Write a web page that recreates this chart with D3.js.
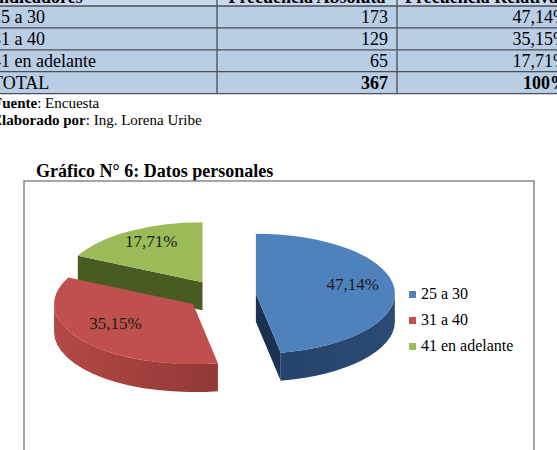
<!DOCTYPE html>
<html>
<head>
<meta charset="utf-8">
<script src="https://cdn.jsdelivr.net/npm/d3@7"></script>
<style>
  body { margin: 0; background: #fff; }
  svg { display: block; }
</style>
</head>
<body>
<div id="chart"></div>
<script>
// data
const headers = ["Indicadores", "Frecuencia Absoluta", "Frecuencia Relativa"];
const categories = ["25 a 30", "31 a 40", "41 en adelante"];
const absolutes = [173, 129, 65];
const relatives = ["47,14%", "35,15%", "17,71%"];
const totalLabel = "TOTAL";
const totalAbs = 367;
const totalRel = "100%";
const colors = ["#4f81bd", "#c0504d", "#9bbb59"];

const width = 557, height = 450;
const serif = "'Liberation Serif', 'Times New Roman', serif";

const svg = d3.select("#chart").append("svg")
  .attr("width", width)
  .attr("height", height)
  .attr("font-family", serif)
  .style("font-family", serif);

const defs = svg.append("defs");

// ---- table (cropped at the top / sides like the scan) ----
const colX = [-20, 217, 397, 590];
const rowY = [-16, 6];
for (let i = 2; i < 6; i++) rowY[i] = 6 + (i - 1) * 21.9;

const table = svg.append("g");
table.append("rect")
  .attr("x", colX[0]).attr("y", rowY[0])
  .attr("width", colX[3] - colX[0]).attr("height", rowY[1] - rowY[0])
  .attr("fill", "#c9d9ee");
table.append("rect")
  .attr("x", colX[0]).attr("y", rowY[1])
  .attr("width", colX[3] - colX[0]).attr("height", rowY[5] - rowY[1])
  .attr("fill", "#b9cde5");

rowY.slice(1).forEach(y => {
  table.append("line")
    .attr("x1", colX[0]).attr("x2", colX[3])
    .attr("y1", y).attr("y2", y)
    .attr("stroke", "#4b4f55").attr("stroke-width", 1.3);
});
[colX[1], colX[2]].forEach(x => {
  table.append("line")
    .attr("x1", x).attr("x2", x)
    .attr("y1", rowY[0]).attr("y2", rowY[5])
    .attr("stroke", "#4b4f55").attr("stroke-width", 1.3);
});

// header (only the bottom shows)
table.append("text").attr("x", -8).attr("y", 3)
  .style("font-size", "18px").style("font-weight", "bold").text(headers[0]);
table.append("text").attr("x", (colX[1] + colX[2]) / 2).attr("y", 3)
  .attr("text-anchor", "middle")
  .style("font-size", "18px").style("font-weight", "bold").text(headers[1]);
table.append("text").attr("x", colX[2] + 8).attr("y", 3)
  .style("font-size", "18px").style("font-weight", "bold").text(headers[2]);

const rows = categories.map((c, i) => ({ label: c, abs: absolutes[i], rel: relatives[i], bold: false }))
  .concat([{ label: totalLabel, abs: totalAbs, rel: totalRel, bold: true }]);

rows.forEach((d, i) => {
  const base = rowY[i + 2] - 4.5;
  table.append("text").attr("x", -8).attr("y", base)
    .style("font-size", "18px").text(d.label);
  table.append("text").attr("x", colX[2] - 9).attr("y", base)
    .attr("text-anchor", "end")
    .style("font-size", "18px").style("font-weight", d.bold ? "bold" : "normal")
    .text(d.abs);
  table.append("text").attr("x", 568).attr("y", base)
    .attr("text-anchor", "end")
    .style("font-size", "18px").style("font-weight", d.bold ? "bold" : "normal")
    .text(d.rel);
});

// source notes
const note1 = svg.append("text").attr("x", -7).attr("y", 108).style("font-size", "15px");
note1.append("tspan").style("font-weight", "bold").text("Fuente");
note1.append("tspan").text(": Encuesta");
const note2 = svg.append("text").attr("x", -8).attr("y", 125).style("font-size", "15px");
note2.append("tspan").style("font-weight", "bold").text("Elaborado por");
note2.append("tspan").text(": Ing. Lorena Uribe");

// ---- chart title + frame ----
svg.append("text").attr("x", 36).attr("y", 177)
  .style("font-size", "18px").style("font-weight", "bold")
  .text("Gráfico N° 6: Datos personales");

svg.append("rect")
  .attr("x", 24).attr("y", 181)
  .attr("width", 510).attr("height", 300)
  .attr("fill", "#fff")
  .attr("stroke", "#8f8f8f").attr("stroke-width", 1.6);

// ---- 3D exploded pie ----
const cx = 221, cy = 295, R = 139, r = 60, depth = 28, explode = 35;
const tilt = r / R;

const pie = d3.pie().sort(null).value(d => d)(absolutes);

const sideDark = ["#1b3458", "#6b2524", "#3e4b1b"];
const sideLight = ["#2b4a74", "#b64a47", "#56692b"];
const wallColors = ["#1a3152", "#7a2b2a", "#4a5a23"];

pie.forEach((p, i) => {
  const g = defs.append("linearGradient")
    .attr("id", "side" + i)
    .attr("gradientUnits", "userSpaceOnUse")
    .attr("x1", cx - R - explode).attr("x2", cx + R + explode)
    .attr("y1", 0).attr("y2", 0);
  if (i === 0) {
    g.append("stop").attr("offset", 0).attr("stop-color", sideDark[i]);
    g.append("stop").attr("offset", 1).attr("stop-color", sideLight[i]);
  } else {
    g.append("stop").attr("offset", 0).attr("stop-color", sideLight[i]);
    g.append("stop").attr("offset", 1).attr("stop-color", sideDark[i]);
  }
});

function pt(x0, y0, a, dy) {
  return [x0 + R * Math.sin(a), y0 - r * Math.cos(a) + (dy || 0)];
}

const slices = pie.map((p, i) => {
  const mid = (p.startAngle + p.endAngle) / 2;
  return {
    i, p, mid,
    x: cx + explode * Math.sin(mid),
    y: cy - explode * Math.cos(mid) * tilt
  };
}).sort((a, b) => a.y - b.y);

const pieG = svg.append("g");

slices.forEach(s => {
  const a0 = s.p.startAngle, a1 = s.p.endAngle;
  const g = pieG.append("g");

  // radial walls facing the viewer
  [[a0, a0 - Math.PI / 2], [a1, a1 + Math.PI / 2]].forEach(([a, n]) => {
    if (Math.cos(n) < -0.01) {
      const e = pt(s.x, s.y, a);
      g.append("path")
        .attr("d", `M${s.x},${s.y}L${e[0]},${e[1]}L${e[0]},${e[1] + depth}L${s.x},${s.y + depth}Z`)
        .attr("fill", wallColors[s.i]);
    }
  });

  // outer side (front half only)
  const st = Math.max(a0, Math.PI / 2), en = Math.min(a1, 3 * Math.PI / 2);
  if (en > st) {
    const p1 = pt(s.x, s.y, st), p2 = pt(s.x, s.y, en);
    const large = en - st > Math.PI ? 1 : 0;
    g.append("path")
      .attr("d", `M${p1[0]},${p1[1]}A${R},${r} 0 ${large} 1 ${p2[0]},${p2[1]}` +
        `L${p2[0]},${p2[1] + depth}A${R},${r} 0 ${large} 0 ${p1[0]},${p1[1] + depth}Z`)
      .attr("fill", `url(#side${s.i})`);
  }

  // top face
  const t0 = pt(s.x, s.y, a0), t1 = pt(s.x, s.y, a1);
  const largeTop = a1 - a0 > Math.PI ? 1 : 0;
  g.append("path")
    .attr("d", `M${s.x},${s.y}L${t0[0]},${t0[1]}A${R},${r} 0 ${largeTop} 1 ${t1[0]},${t1[1]}Z`)
    .attr("fill", colors[s.i]);

  // value label
  const lp = [s.x + 0.7 * R * Math.sin(s.mid), s.y - 0.7 * r * Math.cos(s.mid)];
  g.append("text")
    .attr("x", lp[0]).attr("y", lp[1])
    .attr("text-anchor", "middle")
    .style("font-size", "17px")
    .style("fill", "#1a1a1a")
    .text(relatives[s.i]);
});

// legend
const legend = svg.append("g").attr("transform", "translate(409,291)");
const item = legend.selectAll("g").data(categories).enter().append("g")
  .attr("transform", (d, i) => `translate(0,${i * 26})`);
item.append("rect").attr("width", 7).attr("height", 7).attr("fill", (d, i) => colors[i]);
item.append("text").attr("x", 12).attr("y", 7.5)
  .style("font-size", "16px").text(d => d);
</script>
</body>
</html>
